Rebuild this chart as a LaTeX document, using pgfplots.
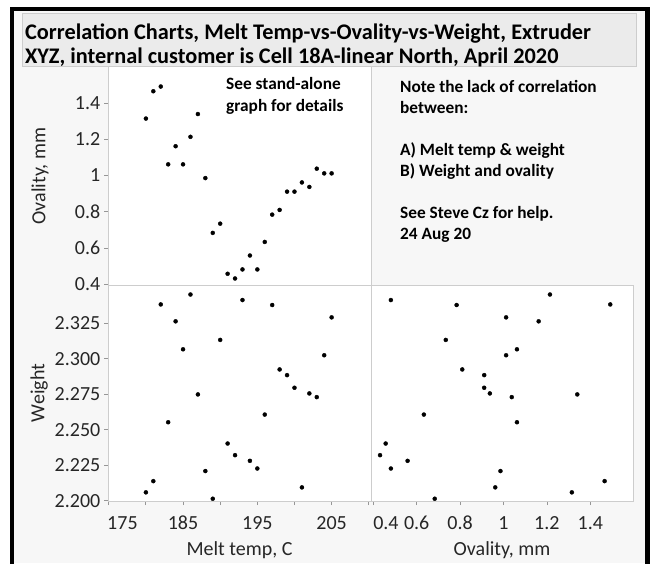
\documentclass[border=0pt]{standalone}
\usepackage{pgfplots}
\pgfplotsset{compat=1.18}
\usepackage{pgfplotstable}
\usepackage{fontspec}
\setmainfont{Carlito}
\definecolor{bgc}{RGB}{247,247,247}
\definecolor{titlebg}{RGB}{235,235,235}
\definecolor{brd}{RGB}{205,205,205}
\definecolor{tickc}{RGB}{150,150,150}

\pgfplotstableread{
T O W
180 1.315 2.2059
181 1.466 2.2138
182 1.492 2.3383
183 1.062 2.2553
184 1.162 2.3264
185 1.062 2.3067
186 1.214 2.3453
187 1.340 2.2749
188 0.986 2.2209
189 0.683 2.2014
190 0.734 2.3133
191 0.457 2.2403
192 0.431 2.2321
193 0.481 2.3414
194 0.558 2.2281
195 0.481 2.2227
196 0.633 2.2607
197 0.784 2.3379
198 0.810 2.2925
199 0.911 2.2885
200 0.911 2.2796
201 0.962 2.2094
202 0.937 2.2756
203 1.038 2.2730
204 1.012 2.3025
205 1.012 2.3292
}\datatable

\pgfplotsset{
  spm/.style={
    scale only axis,
    axis background/.style={fill=white},
    axis line style={draw=brd, line width=1pt},
    tick align=outside,
    tick pos=left,
    major tick length=4pt,
    major tick style={draw=tickc, line width=0.8pt},
    ticklabel style={font=\fontsize{20}{24}\selectfont, inner sep=0pt, text=black!85},
    xticklabel style={yshift=-11pt},
    yticklabel style={xshift=-3.5pt},
    label style={font=\fontsize{20}{24}\selectfont, text=black!85},
    /pgf/number format/assume math mode=true,
  },
  pts/.style={only marks, mark=*, mark size=2pt, black},
}

\begin{document}
\begin{tikzpicture}[x=1pt,y=1pt]
\useasboundingbox (0,0) rectangle (652,563);
\fill[bgc] (14,0) rectangle (645,551.5);
\draw[black, line width=4.5pt, line join=miter] (12,-5) -- (12,553.75) -- (647.5,553.75) -- (647.5,-5);
\filldraw[fill=titlebg, draw=brd, line width=1pt] (22.7,496.3) rectangle (636.7,549.7);
\node[anchor=base west, inner sep=0pt, font=\bfseries\fontsize{22.3}{26}\selectfont] at (25,523.7) {Correlation Charts, Melt Temp-vs-Ovality-vs-Weight, Extruder};
\node[anchor=base west, inner sep=0pt, font=\bfseries\fontsize{22.3}{26}\selectfont] at (25,499.7) {XYZ, internal customer is Cell 18A-linear North, April 2020};

% top-left: melt temp vs ovality
\begin{axis}[spm, at={(108pt,278pt)}, anchor=south west, width=263pt, height=218pt,
  xmin=174.9, xmax=210.3, ymin=0.395, ymax=1.6,
  xtick=\empty,
  ytick={0.4,0.6,0.8,1,1.2,1.4},
  yticklabels={0.4,0.6,0.8,1,1.2,1.4},
  ylabel={Ovality, mm},
  ylabel style={at={(axis description cs:-0.258,0.5)}, anchor=center},
]
\addplot[pts] table[x=T, y=O]{\datatable};
\end{axis}

% bottom-left: melt temp vs weight
\begin{axis}[spm, at={(108pt,62pt)}, anchor=south west, width=263pt, height=216pt,
  xmin=174.9, xmax=210.3, ymin=2.1998, ymax=2.352,
  xtick={175,180,185,190,195,200,205,210},
  xticklabels={\hspace{-3pt}\rlap{175},,185,,195,,205,},
  ytick={2.2,2.225,2.25,2.275,2.3,2.325},
  yticklabels={2.200,2.225,2.250,2.275,2.300,2.325},
  xlabel={Melt temp, C},
  xlabel style={at={(axis description cs:0.5,-0.2546)}, anchor=base},
  ylabel={Weight},
  ylabel style={at={(axis description cs:-0.262,0.5)}, anchor=center},
]
\addplot[pts] table[x=T, y=W]{\datatable};
\end{axis}

% bottom-right: ovality vs weight
\begin{axis}[spm, at={(371pt,62pt)}, anchor=south west, width=262pt, height=216pt,
  xmin=0.3894, xmax=1.5968, ymin=2.1998, ymax=2.352,
  ytick=\empty,
  xtick={0.4,0.6,0.8,1,1.2,1.4},
  xticklabels={\rlap{0.4},0.6,0.8,1,1.2,1.4},
  xlabel={Ovality, mm},
  xlabel style={at={(axis description cs:0.5,-0.2546)}, anchor=base},
]
\addplot[pts] table[x=O, y=W]{\datatable};
\end{axis}

% annotations
\begin{scope}[every node/.style={anchor=base west, inner sep=0pt, font=\bfseries\fontsize{17.3}{20}\selectfont}]
\node at (226,473) {See stand-alone};
\node at (226,451.7) {graph for details};
\node at (400,470.7) {Note the lack of correlation};
\node at (400,449.7) {between:};
\node at (400,407.3) {A) Melt temp \& weight};
\node at (400,386.3) {B) Weight and ovality};
\node at (400,344.7) {See Steve Cz for help.};
\node at (400,323.7) {24 Aug 20};
\end{scope}
\end{tikzpicture}
\end{document}
